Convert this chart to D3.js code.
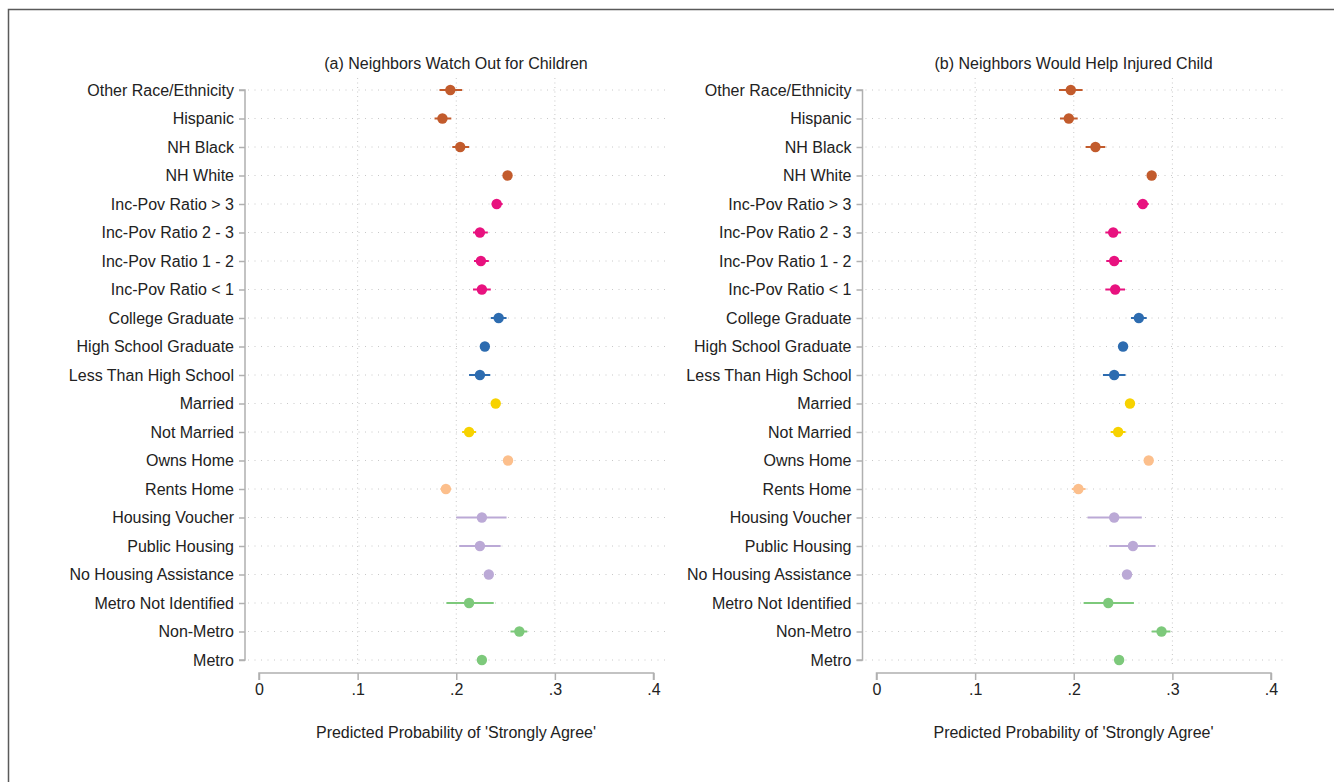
<!DOCTYPE html>
<html><head><meta charset="utf-8">
<script src="https://cdn.jsdelivr.net/npm/d3@7"></script>
<style>body{margin:0;background:#fff;}svg{display:block;font-family:"Liberation Sans",Arial,Helvetica,sans-serif;}</style>
</head><body>
<svg id="c" width="1334" height="782"></svg>
<script>
const categories = ["Other Race/Ethnicity","Hispanic","NH Black","NH White",
 "Inc-Pov Ratio > 3","Inc-Pov Ratio 2 - 3","Inc-Pov Ratio 1 - 2","Inc-Pov Ratio < 1",
 "College Graduate","High School Graduate","Less Than High School",
 "Married","Not Married","Owns Home","Rents Home",
 "Housing Voucher","Public Housing","No Housing Assistance",
 "Metro Not Identified","Non-Metro","Metro"];
const groups = ["race","race","race","race","inc","inc","inc","inc","edu","edu","edu",
 "mar","mar","home","home","hous","hous","hous","metro","metro","metro"];
const groupColors = {race:"#c25b2c",inc:"#e8127f",edu:"#2d6cb0",mar:"#f7d200",home:"#fcbf8c",hous:"#bba9d6",metro:"#7dc97b"};

const titleA = "(a) Neighbors Watch Out for Children";
const estA = [0.194,0.186,0.204,0.252,0.241,0.224,0.225,0.226,0.243,0.229,0.224,0.240,0.213,0.2525,0.1895,0.226,0.224,0.233,0.213,0.264,0.226];
const loA  = [0.183,0.178,0.196,0.249,0.236,0.217,0.218,0.217,0.235,0.226,0.213,0.237,0.206,0.249,0.184,0.200,0.203,0.230,0.190,0.255,0.223];
const hiA  = [0.206,0.195,0.213,0.255,0.247,0.232,0.233,0.235,0.251,0.232,0.2345,0.243,0.220,0.256,0.195,0.251,0.245,0.236,0.238,0.272,0.229];

const titleB = "(b) Neighbors Would Help Injured Child";
const estB = [0.197,0.195,0.222,0.279,0.270,0.240,0.241,0.242,0.266,0.250,0.241,0.257,0.245,0.276,0.2047,0.241,0.260,0.254,0.235,0.289,0.246];
const loB  = [0.185,0.186,0.212,0.275,0.264,0.232,0.233,0.232,0.258,0.246,0.2296,0.254,0.2374,0.272,0.198,0.214,0.236,0.251,0.210,0.279,0.243];
const hiB  = [0.209,0.204,0.232,0.283,0.276,0.248,0.249,0.252,0.274,0.254,0.2525,0.260,0.2525,0.280,0.212,0.269,0.283,0.257,0.261,0.298,0.249];

const xTicks = [0,0.1,0.2,0.3,0.4];
const xTickLabels = ["0",".1",".2",".3",".4"];
const xTitle = "Predicted Probability of 'Strongly Agree'";

const FS = "16px";
const svg = d3.select("#c");
// outer frame
svg.append("rect").attr("x",8.5).attr("y",9.5).attr("width",1340).attr("height",800)
  .attr("fill","none").attr("stroke","#5a5a5a").attr("stroke-width",1.5);

function panel(x0, title, est, lo, hi){
  const x = d3.scaleLinear().domain([0,0.4]).range([x0, x0+394.5]);
  const y = d3.scalePoint().domain(categories).range([90,660]);
  const g = svg.append("g");
  const axX = x0-14; // y-axis line
  const gridRight = x0+408;
  // vertical grid
  [0.1,0.2,0.3].forEach(t=>{
    g.append("line").attr("x1",x(t)).attr("x2",x(t)).attr("y1",78).attr("y2",667)
      .attr("stroke","#c8c8c8").attr("stroke-width",1).attr("stroke-dasharray","1,3.5");
  });
  // horizontal grid
  categories.forEach(c=>{
    g.append("line").attr("x1",axX+3).attr("x2",gridRight).attr("y1",y(c)).attr("y2",y(c))
      .attr("stroke","#c8c8c8").attr("stroke-width",1).attr("stroke-dasharray","1,5.5");
  });
  // y axis
  const ya = g.append("g").attr("transform",`translate(${axX},0)`)
    .call(d3.axisLeft(y).tickSize(6).tickPadding(5));
  ya.select(".domain").attr("stroke","#b0b0b0").attr("stroke-width",1.5).attr("d",`M-6,90H0V660H-6`);
  ya.selectAll(".tick line").attr("stroke","#b0b0b0").attr("stroke-width",1.5);
  ya.selectAll(".tick text").attr("font-size",FS).attr("fill","#222").attr("font-family","\"Liberation Sans\",Arial,sans-serif");
  // x axis
  const xa = g.append("g").attr("transform","translate(0,673)")
    .call(d3.axisBottom(x).tickValues(xTicks).tickFormat((d,i)=>xTickLabels[i]).tickSize(7).tickPadding(4));
  xa.select(".domain").attr("stroke","#b0b0b0").attr("stroke-width",1.5).attr("d",`M${x(0)},7V0H${x(0.4)}V7`);
  xa.selectAll(".tick line").attr("stroke","#b0b0b0").attr("stroke-width",1.5);
  xa.selectAll(".tick text").attr("font-size",FS).attr("fill","#222").attr("font-family","\"Liberation Sans\",Arial,sans-serif");
  // CIs
  g.selectAll("line.ci").data(categories).enter().append("line")
    .attr("x1",(d,i)=>x(lo[i])).attr("x2",(d,i)=>x(hi[i]))
    .attr("y1",d=>y(d)).attr("y2",d=>y(d))
    .attr("stroke",(d,i)=>groupColors[groups[i]]).attr("stroke-width",2);
  g.selectAll("circle.pt").data(categories).enter().append("circle")
    .attr("cx",(d,i)=>x(est[i])).attr("cy",d=>y(d)).attr("r",5.2)
    .attr("fill",(d,i)=>groupColors[groups[i]]);
  // titles
  const cx = (x0-14 + x0+408)/2;
  g.append("text").attr("x",cx).attr("y",69).attr("text-anchor","middle")
    .attr("font-size",FS).attr("fill","#222").text(title);
  g.append("text").attr("x",cx).attr("y",738).attr("text-anchor","middle")
    .attr("font-size",FS).attr("fill","#222").text(xTitle);
}
panel(259, titleA, estA, loA, hiA);
panel(876.5, titleB, estB, loB, hiB);
</script>
</body></html>
